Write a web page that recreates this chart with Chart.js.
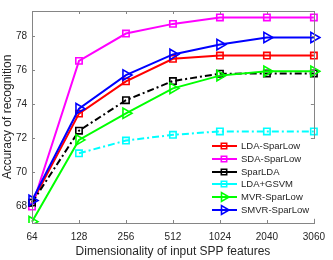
<!DOCTYPE html>
<html>
<head>
<meta charset="utf-8">
<script src="https://cdn.jsdelivr.net/npm/chart.js@4/dist/chart.umd.min.js"></script>
<style>
  html, body { margin: 0; padding: 0; background: #fff; }
  #wrap { width: 333px; height: 260px; }
</style>
</head>
<body>
<div id="wrap"><canvas id="accChart"></canvas></div>
<script>
const dims = ['64', '128', '256', '512', '1024', '2040', '3060'];
const ldaSparLow = [68.2, 73.45, 75.35, 76.68, 76.87, 76.87, 76.87];
const sdaSparLow = [67.97, 76.56, 78.17, 78.74, 79.12, 79.12, 79.12];
const sparLDA = [68.2, 72.44, 74.24, 75.37, 75.8, 75.82, 75.82];
const ldaGSVM = [null, 71.11, 71.86, 72.2, 72.4, 72.4, 72.4];
const mvrSparLow = [67.08, 71.9, 73.47, 74.94, 75.69, 75.95, 75.95];
const smvrSparLow = [68.33, 73.74, 75.72, 76.94, 77.52, 77.94, 77.94];
const yTicks = [68, 70, 72, 74, 76, 78];

const axisColor = '#858585';
const textColor = '#262626';
const font = 'Liberation Sans, Arial, sans-serif';

function series(label, data, color, shape, dash) {
    const tri = shape === 'triangle';
    return {
        label: label,
        data: data,
        borderColor: color,
        backgroundColor: 'rgba(0,0,0,0)',
        borderWidth: 2,
        borderDash: dash || [],
        pointStyle: shape,
        pointRotation: tri ? 90 : 0,
        pointRadius: tri ? 6 : 4.5,
        pointBorderWidth: 1.6,
        pointBorderColor: color,
        pointBackgroundColor: 'rgba(0,0,0,0)',
        tension: 0,
        spanGaps: true
    };
}

const datasets = [
    series('LDA-SparLow', ldaSparLow, '#ff0000', 'rect'),
    series('SDA-SparLow', sdaSparLow, '#ff00ff', 'rect'),
    series('SparLDA', sparLDA, '#000000', 'rect', [7, 3, 2, 3]),
    series('LDA+GSVM', ldaGSVM, '#00ffff', 'rect', [7, 3, 2, 3]),
    series('MVR-SparLow', mvrSparLow, '#00ff00', 'triangle'),
    series('SMVR-SparLow', smvrSparLow, '#0000ff', 'triangle')
];
datasets.forEach((d, i) => { d.order = datasets.length - i; });

// box around the plot + inward ticks, like the original figure
const boxPlugin = {
    id: 'box',
    afterDatasetsDraw(chart) {
        const ctx = chart.ctx;
        const a = chart.chartArea;
        const x = chart.scales.x, y = chart.scales.y;
        ctx.save();
        ctx.strokeStyle = axisColor;
        ctx.lineWidth = 1;
        ctx.beginPath();
        x.ticks.forEach((t, i) => {
            const px = Math.round(x.getPixelForTick(i)) + 0.5;
            ctx.moveTo(px, a.bottom); ctx.lineTo(px, a.bottom - 3);
            ctx.moveTo(px, a.top); ctx.lineTo(px, a.top + 3);
        });
        y.ticks.forEach((t, i) => {
            const py = Math.round(y.getPixelForTick(i)) + 0.5;
            ctx.moveTo(a.left, py); ctx.lineTo(a.left + 3, py);
            ctx.moveTo(a.right, py); ctx.lineTo(a.right - 3, py);
        });
        ctx.stroke();
        ctx.strokeRect(Math.round(a.left) + 0.5, Math.round(a.top) + 0.5,
            Math.round(a.right - a.left), Math.round(a.bottom - a.top));
        ctx.restore();
    }
};

// legend inside the plot with line + marker samples
const legendPlugin = {
    id: 'lineLegend',
    afterDraw(chart) {
        const ctx = chart.ctx;
        const left = 209, top = 139, rowH = 12.8;
        ctx.save();
        ctx.fillStyle = '#ffffff';
        ctx.fillRect(left, top, 108, rowH * 6 + 3);
        ctx.font = '9.5px ' + font;
        ctx.textBaseline = 'middle';
        chart.data.datasets.forEach((d, i) => {
            const cy = Math.round(top + 7 + i * rowH);
            const tri = d.pointStyle === 'triangle';
            ctx.strokeStyle = d.borderColor;
            ctx.lineWidth = 2;
            ctx.setLineDash([]);
            ctx.beginPath();
            ctx.moveTo(left + 3, cy);
            ctx.lineTo(left + 28, cy);
            ctx.stroke();
            ctx.lineWidth = d.pointBorderWidth;
            ctx.fillStyle = 'rgba(0,0,0,0)';
            Chart.helpers.drawPoint(ctx, {
                pointStyle: d.pointStyle,
                rotation: d.pointRotation,
                radius: tri ? 5 : 3.8,
                borderWidth: d.pointBorderWidth
            }, left + 15, cy);
            ctx.fillStyle = textColor;
            ctx.fillText(d.label, left + 32, cy + 0.5);
        });
        ctx.restore();
    }
};

new Chart(document.getElementById('accChart'), {
    type: 'line',
    data: { labels: dims, datasets: datasets },
    plugins: [boxPlugin, legendPlugin],
    options: {
        responsive: true,
        maintainAspectRatio: false,
        animation: false,
        layout: { padding: { top: 1, right: 13, left: 0, bottom: 0 } },
        plugins: {
            legend: { display: false },
            tooltip: { enabled: false }
        },
        scales: {
            x: {
                type: 'category',
                offset: false,
                grid: { display: false, drawTicks: false },
                border: { display: false },
                ticks: { color: textColor, font: { family: font, size: 10 }, padding: 8, maxRotation: 0, autoSkip: false },
                title: { display: true, text: 'Dimensionality of input SPP features', color: textColor, font: { family: font, size: 12 }, padding: { top: 0, bottom: 1 } },
                afterFit(s) { s.height = 37; }
            },
            y: {
                min: 67,
                max: 79.5,
                grid: { display: false, drawTicks: false },
                border: { display: false },
                afterBuildTicks(s) { s.ticks = yTicks.map(v => ({ value: v })); },
                ticks: { color: textColor, font: { family: font, size: 10 }, padding: 5 },
                title: { display: true, text: 'Accuracy of recognition', color: textColor, font: { family: font, size: 12 }, padding: { top: 0, bottom: 0 } },
                afterFit(s) { s.width = 32; }
            }
        }
    }
});
</script>
</body>
</html>
